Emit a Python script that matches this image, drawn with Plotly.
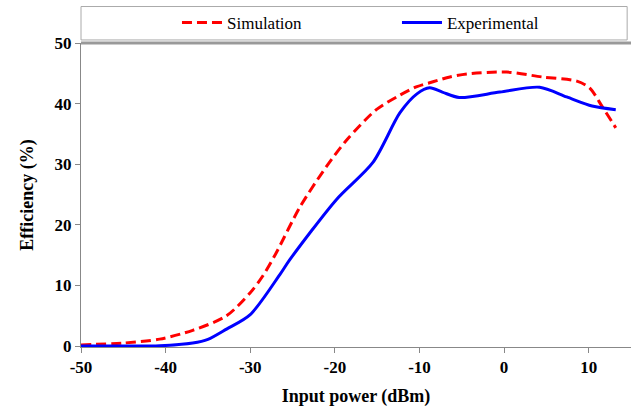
import plotly.graph_objects as go

# Data
sim_x = [-50, -45, -40.7, -36.8, -32.8, -30, -28.5, -27, -24.1, -21, -18.6, -15.1, -12.3,
         -10.3, -8.4, -6.4, -4.4, 0.3, 4.5, 8.6, 10.1, 11.6, 13.2]
sim_y = [0.2, 0.5, 1.15, 2.6, 5.0, 8.8, 11.6, 15.2, 23.0, 29.6, 34.0, 39.0, 41.4,
         42.8, 43.6, 44.4, 44.9, 45.2, 44.4, 43.7, 42.6, 39.5, 36.0]

exp_x = [-50, -45, -40.7, -36.8, -35, -32.8, -30, -26.5, -25.3, -19.8, -15.5, -12.3,
         -10.3, -8.8, -7.3, -5.3, -0.5, 4.2, 7.4, 10.4, 13.2]
exp_y = [0.0, 0.0, 0.05, 0.5, 1.1, 2.8, 5.2, 11.8, 14.3, 24.2, 30.3, 38.5,
         41.6, 42.6, 41.9, 41.0, 41.9, 42.7, 41.1, 39.6, 39.0]

x_ticks = [-50, -40, -30, -20, -10, 0, 10]
y_ticks = [0, 10, 20, 30, 40, 50]

FONT = "Liberation Serif"

fig = go.Figure()
fig.add_trace(go.Scatter(
    x=sim_x, y=sim_y, mode="lines", name="Simulation", legend="legend",
    line=dict(color="#ff0000", width=3, dash="10px,5px", shape="spline", smoothing=0.8),
))
fig.add_trace(go.Scatter(
    x=exp_x, y=exp_y, mode="lines", name="Experimental", legend="legend2",
    line=dict(color="#0000ff", width=3, shape="spline", smoothing=0.8),
))

legend_common = dict(
    orientation="h", xanchor="left", y=1.066, yanchor="middle",
    font=dict(family=FONT, size=17, color="black"),
    bgcolor="rgba(0,0,0,0)", borderwidth=0, itemwidth=40,
)

fig.update_layout(
    width=631, height=411,
    margin=dict(l=81, r=0, t=43, b=64),
    paper_bgcolor="white", plot_bgcolor="white",
    font=dict(family=FONT, size=15, color="black"),
    showlegend=True,
    legend=dict(x=0.1745, **legend_common),
    legend2=dict(x=0.5745, **legend_common),
    xaxis=dict(
        range=[-50, 15], tickvals=x_ticks, ticktext=[str(v) for v in x_ticks],
        showgrid=False, zeroline=False, showline=True, linecolor="#888888", linewidth=1,
        ticks="outside", ticklen=5, tickcolor="#888888",
        tickfont=dict(family=FONT, size=17, color="black", weight="bold"),
        title=dict(text="<b>Input power (dBm)</b>", font=dict(family=FONT, size=18), standoff=12),
    ),
    yaxis=dict(
        range=[-0.15, 50], tickvals=y_ticks, ticktext=[str(v) for v in y_ticks],
        showgrid=False, zeroline=False, showline=True, linecolor="#888888", linewidth=1,
        ticks="outside", ticklen=5, tickcolor="#888888",
        tickfont=dict(family=FONT, size=17, color="black", weight="bold"),
        title=dict(text="<b>Efficiency (%)</b>", font=dict(family=FONT, size=18), standoff=16),
    ),
    shapes=[
        dict(type="rect", xref="paper", yref="paper", x0=0, x1=0.993, y0=1.01, y1=1.12,
             line=dict(color="#aaaaaa", width=1), fillcolor="rgba(0,0,0,0)", layer="above"),
        dict(type="line", xref="paper", yref="paper", x0=0, x1=1.0, y0=1.0, y1=1.0,
             line=dict(color="#999999", width=3), layer="above"),
    ],
)

fig.write_html("out.html", config={"displayModeBar": False},
               post_script="document.body.style.margin='0';document.body.style.padding='0';")
